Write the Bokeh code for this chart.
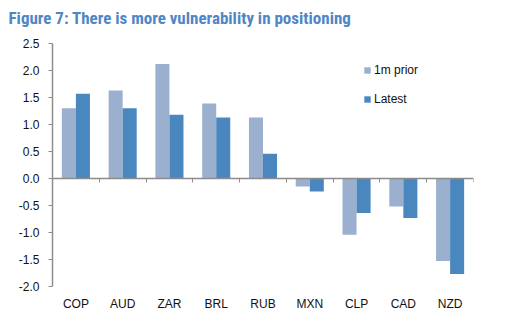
from bokeh.plotting import figure
from bokeh.models import (ColumnDataSource, FixedTicker, LinearAxis, Range1d, Legend, LegendItem, Title)
from bokeh.embed import file_html
from bokeh.resources import INLINE

categories = ["COP", "AUD", "ZAR", "BRL", "RUB", "MXN", "CLP", "CAD", "NZD"]
prior_1m = [1.30, 1.63, 2.12, 1.39, 1.13, -0.15, -1.04, -0.52, -1.53]
latest = [1.57, 1.30, 1.18, 1.13, 0.46, -0.24, -0.64, -0.73, -1.77]
y_ticks = [-2.0, -1.5, -1.0, -0.5, 0.0, 0.5, 1.0, 1.5, 2.0, 2.5]
title_text = "Figure 7: There is more vulnerability in positioning"

centers = [i + 0.5 for i in range(len(categories))]
src = ColumnDataSource(dict(
    cat=categories,
    xp=[c - 0.15 for c in centers],
    xl=[c + 0.15 for c in centers],
    prior=prior_1m,
    latest=latest,
))

LIGHT = "#9AB0CE"
DARK = "#4A87BF"
FONT = "Liberation Sans"

p = figure(width=511, height=330, output_backend="svg", toolbar_location=None,
           x_range=Range1d(0, len(categories)), y_range=Range1d(-2.0, 2.5),
           min_border_left=52, min_border_right=38, min_border_top=0, min_border_bottom=44)
p.outline_line_color = None
p.grid.visible = False
p.background_fill_color = "white"
p.title.visible = False

# spacer between title and plot frame, then the title itself (outermost)
p.add_layout(Title(text=" ", standoff=8, text_font_size="1px"), "above")
p.add_layout(Title(text=title_text, standoff=10, align="left", offset=-44,
                   text_font="Liberation Sans Narrow, Roboto Condensed, Liberation Sans",
                   text_font_size="17px", text_font_style="bold", text_color="#4F86C6"), "above")

r1 = p.vbar(x="xp", top="prior", bottom=0, width=0.3, source=src, fill_color=LIGHT, line_color=None)
r2 = p.vbar(x="xl", top="latest", bottom=0, width=0.3, source=src, fill_color=DARK, line_color=None)

# bottom axis: category labels only
xa = p.xaxis[0]
xa.ticker = FixedTicker(ticks=centers)
xa.major_label_overrides = {c: n for c, n in zip(centers, categories)}
xa.axis_line_color = None
xa.major_tick_line_color = None
xa.minor_tick_line_color = None
xa.major_label_text_font = FONT
xa.major_label_text_font_size = "12px"
xa.major_label_text_color = "#111111"
xa.major_label_standoff = 4

# zero axis with ticks between categories
zero_axis = LinearAxis(fixed_location=0, ticker=FixedTicker(ticks=list(range(len(categories) + 1))),
                       major_label_text_alpha=0, major_label_text_font_size="1px",
                       axis_line_color="#8C8C8C", axis_line_width=1.5,
                       major_tick_line_color="#8C8C8C", major_tick_in=0, major_tick_out=4,
                       minor_tick_line_color=None)
p.add_layout(zero_axis, "below")

ya = p.yaxis[0]
ya.ticker = FixedTicker(ticks=y_ticks)
ya.major_label_overrides = {t: f"{t:.1f}" for t in y_ticks}
ya.axis_line_color = "#8C8C8C"
ya.axis_line_width = 1.5
ya.major_tick_line_color = "#8C8C8C"
ya.major_tick_in = 0
ya.major_tick_out = 4
ya.minor_tick_line_color = None
ya.major_label_text_font = FONT
ya.major_label_text_font_size = "12px"
ya.major_label_text_color = "#111111"
ya.major_label_standoff = 9

legend = Legend(items=[LegendItem(label="1m prior", renderers=[r1]),
                       LegendItem(label="Latest", renderers=[r2])],
                location=(311, 180), orientation="vertical",
                glyph_width=8, glyph_height=8, label_standoff=3, spacing=15,
                padding=0, margin=0, border_line_color=None, background_fill_alpha=0,
                label_text_font=FONT, label_text_font_size="12px", label_text_color="#111111")
p.add_layout(legend)

open("out.html", "w").write(file_html(p, INLINE))
